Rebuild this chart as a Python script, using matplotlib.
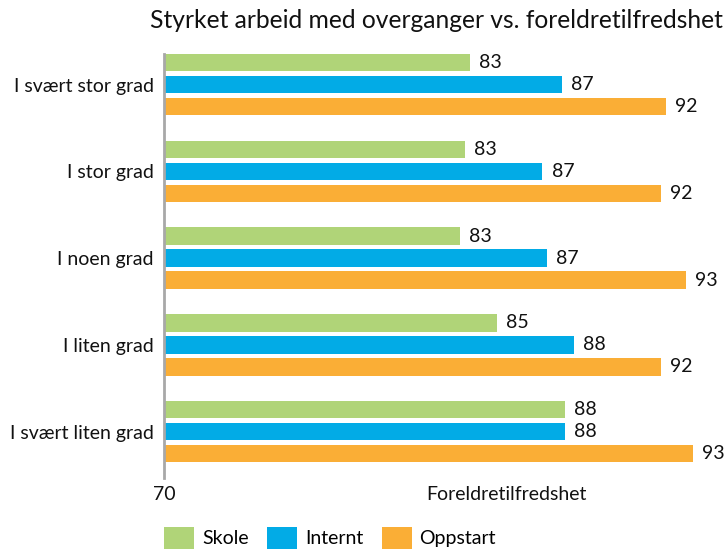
import matplotlib
matplotlib.use("Agg")
import matplotlib.pyplot as plt
import numpy as np

plt.rcParams['font.family'] = ['Lato', 'DejaVu Sans']

categories = ["I svært stor grad", "I stor grad", "I noen grad", "I liten grad", "I svært liten grad"]
series_names = ["Skole", "Internt", "Oppstart"]
skole = [83.4, 83.2, 83.0, 84.6, 87.6]
internt = [87.45, 86.6, 86.8, 88.0, 87.6]
oppstart = [92.0, 91.8, 92.9, 91.8, 93.2]
colors = ["#B0D478", "#02ABE6", "#FAAE36"]

title = "Styrket arbeid med overganger vs. foreldretilfredshet"
xlabel = "Foreldretilfredshet"
x_min, x_max = 70, 100

W, H = 726, 554
fig = plt.figure(figsize=(W / 100, H / 100), dpi=100)
ax = fig.add_axes([164 / W, 76 / H, 684 / W, 424 / H])

fs = 14
y = np.arange(len(categories))
off = 0.2536
bh = 0.2017
for i, (vals, name, c) in enumerate(zip([skole, internt, oppstart], series_names, colors)):
    bars = ax.barh(y + (i - 1) * off, np.array(vals) - x_min, left=x_min, height=bh,
                   color=c, label=name)
    ax.bar_label(bars, labels=[f"{v:.0f}" for v in vals], padding=6.5, fontsize=fs,
                 color="#111111")

ax.set_xlim(x_min, x_max)
ax.set_ylim(4.536, -0.354)
ax.set_yticks(y)
ax.set_yticklabels(categories, fontsize=fs, color="#111111")
ax.set_xticks([70])
ax.set_xticklabels(["70"], fontsize=fs, color="#111111")
ax.tick_params(axis='y', length=0, pad=7.5)
ax.tick_params(axis='x', length=0, pad=6)
for s in ["top", "right", "bottom"]:
    ax.spines[s].set_visible(False)
ax.spines["left"].set_color("#A8A8A8")
ax.spines["left"].set_linewidth(2)
ax.set_xlabel(xlabel, fontsize=fs, color="#111111", va="top")
ax.xaxis.set_label_coords(0.5, -8 / 424)

fig.text(436 / W, 1 - 20 / H, title, fontsize=17.7, ha="center", va="center", color="#111111")

fig.legend(loc="upper left", bbox_to_anchor=(164 / W, 1 - 527 / H), ncol=3, frameon=False,
           fontsize=fs, handlelength=1.55, handleheight=1.35, handletextpad=0.4,
           columnspacing=0.95, borderpad=0, borderaxespad=0)

fig.savefig("out.png", dpi=100)
